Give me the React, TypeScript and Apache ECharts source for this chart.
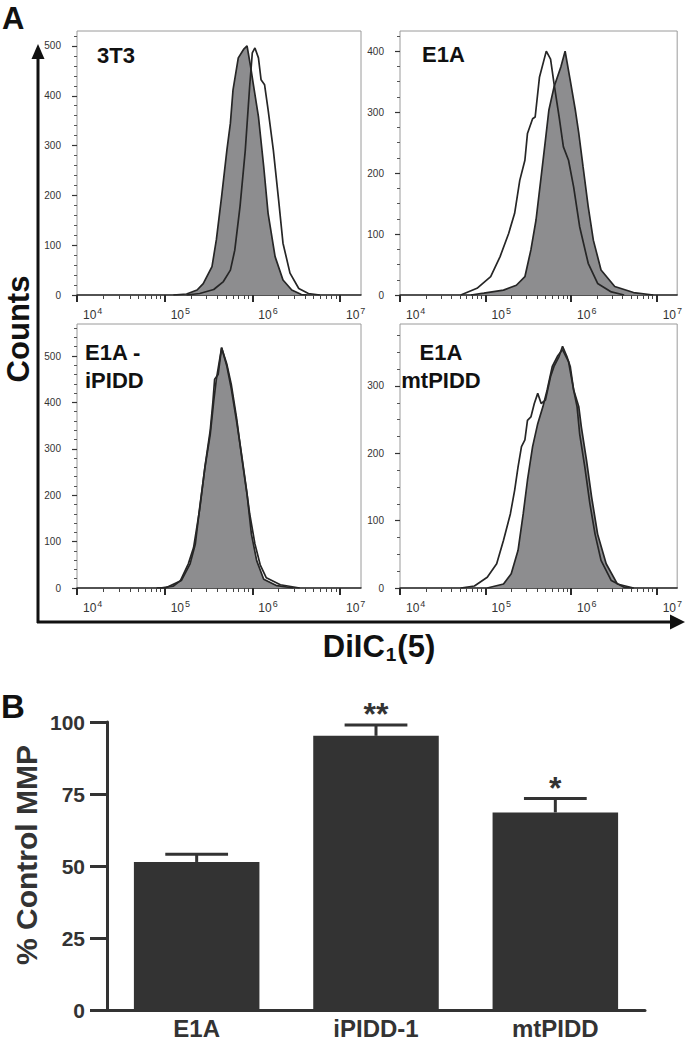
import React, { useEffect, useRef } from 'react';
import * as echarts from 'echarts';

const FONT = '"Liberation Sans", Arial, Helvetica, sans-serif';

// ---------- Panel A: flow cytometry histograms ----------
// x = log10 of DiIC1(5) fluorescence, y = counts
const panelTitles = ['3T3', 'E1A', 'E1A -\niPIDD', 'E1A\nmtPIDD'];
const decadeTicks = [4, 5, 6, 7];
const minorMultipliers = [2, 3, 4, 5, 6, 7, 8, 9];
const countMax = [530, 433, 569, 392];
const countMajorTicks = [
  [0, 100, 200, 300, 400, 500],
  [0, 100, 200, 300, 400],
  [0, 100, 200, 300, 400, 500],
  [0, 100, 200, 300],
];
const countMinorStep = [20, 25, 20, 25];

const t3Filled = [[5.10,0],[5.25,2],[5.37,10],[5.44,23],[5.54,57],[5.59,111],[5.65,198],[5.71,291],[5.75,345],[5.78,412],[5.84,476],[5.90,493],[5.94,500],[5.98,459],[6.01,425],[6.07,358],[6.13,258],[6.18,164],[6.26,77],[6.35,30],[6.45,10],[6.56,1],[6.62,0]];
const t3Open = [[5.25,0],[5.40,3],[5.56,11],[5.67,27],[5.75,50],[5.80,90],[5.86,178],[5.92,291],[5.97,419],[6.00,486],[6.03,496],[6.07,476],[6.10,432],[6.14,422],[6.18,372],[6.24,291],[6.30,191],[6.35,104],[6.43,44],[6.53,13],[6.64,3],[6.77,0]];

const e1aFilled = [[4.83,0],[4.98,3],[5.21,8],[5.36,16],[5.46,30],[5.53,74],[5.59,123],[5.65,194],[5.70,254],[5.74,303],[5.80,341],[5.88,374],[5.93,400],[5.99,352],[6.05,303],[6.09,265],[6.14,210],[6.20,145],[6.26,90],[6.35,41],[6.51,14],[6.73,4],[6.96,0]];
const e1aOpen = [[4.71,0],[4.90,11],[5.06,30],[5.17,63],[5.27,101],[5.34,134],[5.40,188],[5.46,221],[5.49,265],[5.55,289],[5.58,292],[5.63,357],[5.71,400],[5.76,387],[5.80,347],[5.86,292],[5.91,243],[5.97,221],[6.03,177],[6.10,112],[6.20,52],[6.31,19],[6.47,5],[6.62,0]];

const ipiddFilled = [[4.91,0],[5.02,1],[5.19,16],[5.29,52],[5.35,95],[5.40,174],[5.46,260],[5.52,331],[5.56,403],[5.59,450],[5.65,518],[5.71,482],[5.76,439],[5.82,367],[5.88,281],[5.94,202],[5.99,116],[6.05,59],[6.13,19],[6.28,5],[6.47,0]];
const ipiddOpen = [[4.95,0],[5.10,4],[5.18,16],[5.27,52],[5.33,87],[5.40,170],[5.46,262],[5.52,340],[5.55,400],[5.57,450],[5.61,460],[5.65,518],[5.71,478],[5.76,430],[5.82,360],[5.88,285],[5.93,217],[5.97,160],[6.03,95],[6.09,50],[6.16,22],[6.32,7],[6.54,0]];

const mtpiddFilled = [[5.02,0],[5.21,6],[5.30,21],[5.38,56],[5.44,110],[5.49,160],[5.55,210],[5.61,244],[5.67,269],[5.72,294],[5.78,329],[5.84,344],[5.90,354],[5.97,336],[6.03,294],[6.09,269],[6.12,239],[6.18,190],[6.24,135],[6.31,80],[6.41,36],[6.54,6],[6.73,0]];
const mtpiddOpen = [[4.71,0],[4.87,3],[5.02,16],[5.13,36],[5.21,71],[5.29,110],[5.34,145],[5.38,180],[5.42,210],[5.46,220],[5.49,249],[5.53,254],[5.57,274],[5.61,289],[5.65,274],[5.70,279],[5.76,314],[5.80,329],[5.86,344],[5.90,359],[5.95,344],[5.99,329],[6.03,294],[6.07,269],[6.10,229],[6.16,180],[6.22,125],[6.28,80],[6.35,41],[6.47,11],[6.62,1],[6.73,0]];

const filledCurves = [t3Filled, e1aFilled, ipiddFilled, mtpiddFilled];
const openCurves = [t3Open, e1aOpen, ipiddOpen, mtpiddOpen];

// ---------- Panel B: % control MMP ----------
const barCategories = ['E1A', 'iPIDD-1', 'mtPIDD'];
const barValues = [51.4, 95.2, 68.6];
const barErrors = [2.7, 3.8, 4.8];
const barStars = ['', '**', '*'];
const mmpTicks = [0, 25, 50, 75, 100];

export default function App() {
  const ref = useRef<HTMLDivElement>(null);

  useEffect(() => {
    if (!ref.current) return;
    const chart = echarts.init(ref.current, null, { renderer: 'svg' });

    const boxes = [
      { left: 77, top: 31 },
      { left: 400, top: 31 },
      { left: 77, top: 324 },
      { left: 400, top: 324 },
    ];
    const minorX: number[] = [];
    decadeTicks.slice(0, 3).forEach((n) => minorMultipliers.forEach((k) => minorX.push(n + Math.log10(k))));

    const grids: any[] = [];
    const xAxes: any[] = [];
    const yAxes: any[] = [];
    const series: any[] = [];

    boxes.forEach((b, i) => {
      grids.push({ left: b.left, top: b.top, width: 284, height: 264, show: true, borderColor: '#9a9a9a', borderWidth: 1, backgroundColor: 'transparent' });
      const minorY: number[] = [];
      for (let v = countMinorStep[i]; v < countMax[i]; v += countMinorStep[i]) {
        if (countMajorTicks[i].indexOf(v) < 0) minorY.push(v);
      }
      xAxes.push({
        gridIndex: i, type: 'value', position: 'bottom', min: 4, max: 7.24, interval: 1,
        splitLine: { show: false },
        axisLine: { show: true, lineStyle: { color: '#2a2a2a', width: 1.5 } },
        axisTick: { show: true, customValues: decadeTicks, length: 7, lineStyle: { color: '#2a2a2a', width: 2 } },
        axisLabel: {
          show: true, customValues: decadeTicks, align: 'left', margin: 11, padding: [0, 0, 0, 6],
          formatter: (v: number) => `{b|10}{s|${v}}`,
          rich: {
            b: { fontFamily: FONT, fontSize: 12, color: '#333', lineHeight: 15, verticalAlign: 'bottom' },
            s: { fontFamily: FONT, fontSize: 9, color: '#333', lineHeight: 10, verticalAlign: 'top', padding: [0, 0, 0, 1] },
          },
        },
      });
      xAxes.push({
        gridIndex: i, type: 'value', position: 'bottom', min: 4, max: 7.24, interval: 1,
        splitLine: { show: false }, axisLine: { show: false }, axisLabel: { show: false },
        axisTick: { show: true, customValues: minorX, length: 4, lineStyle: { color: '#444', width: 1 } },
      });
      yAxes.push({
        gridIndex: i, type: 'value', position: 'left', min: 0, max: countMax[i], interval: 100,
        splitLine: { show: false },
        axisLine: { show: false },
        axisTick: { show: true, customValues: countMajorTicks[i], length: 5, lineStyle: { color: '#333', width: 1.2 } },
        axisLabel: { show: true, customValues: countMajorTicks[i], fontFamily: FONT, fontSize: 10, color: '#333', margin: 16 },
      });
      yAxes.push({
        gridIndex: i, type: 'value', position: 'left', min: 0, max: countMax[i], interval: 100,
        splitLine: { show: false }, axisLine: { show: false }, axisLabel: { show: false },
        axisTick: { show: true, customValues: minorY, length: 3, lineStyle: { color: '#555', width: 1 } },
      });
      series.push({
        type: 'line', xAxisIndex: 2 * i, yAxisIndex: 2 * i, data: filledCurves[i],
        showSymbol: false, symbol: 'none', z: 2,
        lineStyle: { color: '#262626', width: 1.7 },
        areaStyle: { color: '#8d8d8f', opacity: 1 },
      });
      series.push({
        type: 'line', xAxisIndex: 2 * i, yAxisIndex: 2 * i, data: openCurves[i],
        showSymbol: false, symbol: 'none', z: 3,
        lineStyle: { color: '#262626', width: 1.7 },
      });
    });

    // Panel B grid
    grids.push({ left: 107, top: 722, width: 538, height: 290 });
    xAxes.push({
      gridIndex: 4, type: 'category', data: barCategories,
      axisLine: { show: true, lineStyle: { color: '#333', width: 3 } },
      axisTick: { show: false },
      axisLabel: { fontFamily: FONT, fontWeight: 'bold', fontSize: 24, color: '#333', margin: 6 },
    });
    yAxes.push({
      gridIndex: 4, type: 'value', min: 0, max: 100, interval: 25,
      splitLine: { show: false },
      axisLine: { show: true, lineStyle: { color: '#333', width: 3 } },
      axisTick: { show: true, customValues: mmpTicks, length: 17, lineStyle: { color: '#333', width: 3 } },
      axisLabel: { customValues: mmpTicks, fontFamily: FONT, fontWeight: 'bold', fontSize: 21, color: '#333', margin: 22 },
    });
    series.push({
      type: 'bar', xAxisIndex: 8, yAxisIndex: 8, data: barValues, barWidth: '70%',
      itemStyle: { color: '#333333' }, z: 2,
    });
    series.push({
      type: 'custom', xAxisIndex: 8, yAxisIndex: 8, z: 3,
      data: barCategories.map((c, i) => [i, barValues[i], barValues[i] + barErrors[i]]),
      renderItem: (params: any, api: any) => {
        const idx = params.dataIndex;
        const base = api.coord([api.value(0), api.value(1)]);
        const top = api.coord([api.value(0), api.value(2)]);
        const half = api.size([1, 0])[0] * 0.175;
        const st = { stroke: '#333', lineWidth: 3 };
        return {
          type: 'group',
          children: [
            { type: 'line', shape: { x1: base[0], y1: base[1], x2: top[0], y2: top[1] }, style: st },
            { type: 'line', shape: { x1: top[0] - half, y1: top[1], x2: top[0] + half, y2: top[1] }, style: st },
            {
              type: 'text', x: top[0], y: top[1] + 5,
              style: { text: barStars[idx], font: `bold 32px ${FONT}`, fill: '#333', align: 'center', verticalAlign: 'bottom', textAlign: 'center', textVerticalAlign: 'bottom' },
            },
          ],
        };
      },
    });

    const black = '#111';
    const ts = (text: string, size: number, extra: any = {}) => ({
      text, font: `bold ${size}px ${FONT}`, fill: black, align: 'left', verticalAlign: 'middle', textAlign: 'left', textVerticalAlign: 'middle', ...extra,
    });

    const graphic: any[] = [
      { type: 'text', x: 2, y: 18, style: ts('A', 31, { lineHeight: 30 }) },
      { type: 'text', x: 1, y: 706, style: ts('B', 33, { lineHeight: 30 }) },
      { type: 'text', x: 18, y: 329, rotation: Math.PI / 2, style: ts('Counts', 31, { align: 'center', textAlign: 'center', lineHeight: 30 }) },
      { type: 'text', x: 26, y: 855, rotation: Math.PI / 2, style: ts('% Control MMP', 30, { fill: '#333', align: 'center', textAlign: 'center', lineHeight: 30 }) },
      { type: 'text', x: 97, y: 55, style: ts(panelTitles[0], 22) },
      { type: 'text', x: 422, y: 54, style: ts(panelTitles[1], 22) },
      { type: 'text', x: 85, y: 366, style: ts(panelTitles[2], 22, { lineHeight: 28 }) },
      { type: 'text', x: 441, y: 366, style: ts(panelTitles[3], 22, { lineHeight: 28, align: 'center', textAlign: 'center' }) },
      // axis arrows
      { type: 'line', shape: { x1: 38, y1: 56, x2: 38, y2: 623 }, style: { stroke: black, lineWidth: 3 } },
      { type: 'polygon', shape: { points: [[38, 44], [31.5, 59], [44.5, 59]] }, style: { fill: black } },
      { type: 'line', shape: { x1: 37, y1: 622, x2: 672, y2: 622 }, style: { stroke: black, lineWidth: 3 } },
      { type: 'polygon', shape: { points: [[685, 622], [670, 614.5], [670, 629.5]] }, style: { fill: black } },
      {
        type: 'text', x: 379, y: 631,
        style: {
          text: '{a|DiIC}{s|1}{a|(5)}', align: 'center', verticalAlign: 'top', textAlign: 'center', textVerticalAlign: 'top',
          rich: {
            a: { font: `bold 31px ${FONT}`, fill: black, lineHeight: 33, verticalAlign: 'top' },
            s: { font: `bold 19px ${FONT}`, fill: black, lineHeight: 20, verticalAlign: 'bottom', padding: [18, 1, 0, 1] },
          },
        },
      },
    ];

    chart.setOption({
      animation: false,
      backgroundColor: '#ffffff',
      grid: grids,
      xAxis: xAxes,
      yAxis: yAxes,
      series,
      graphic,
    });

    return () => chart.dispose();
  }, []);

  return <div ref={ref} style={{ position: 'absolute', left: 0, top: 0, width: 685, height: 1040 }} />;
}
